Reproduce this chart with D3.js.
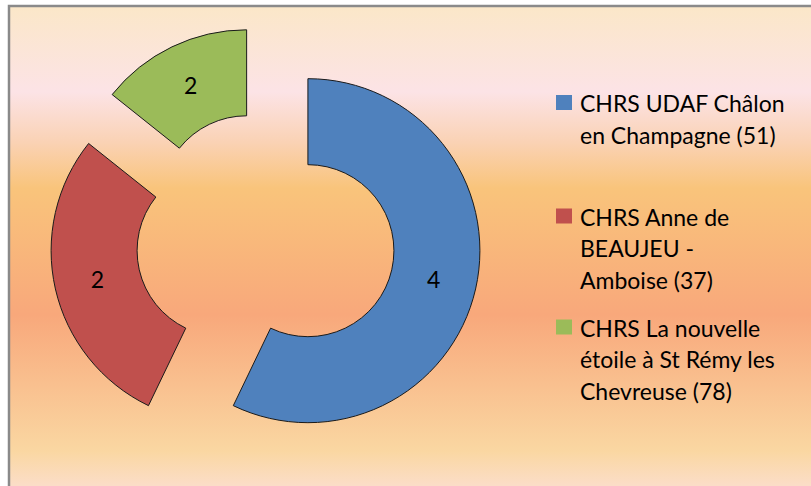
<!DOCTYPE html>
<html>
<head>
<meta charset="utf-8">
<script src="https://cdn.jsdelivr.net/npm/d3@7"></script>
<style>
  body { margin: 0; background: #fff; }
  text { font-family: Lato, "Noto Sans", sans-serif; fill: #000; }
</style>
</head>
<body>
<div id="target"></div>
<script>
// values (slice sizes 4:2:1, labels as printed)
const categories = ["CHRS UDAF Châlon en Champagne (51)", "CHRS Anne de BEAUJEU - Amboise (37)", "CHRS La nouvelle étoile à St Rémy les Chevreuse (78)"];
const values = [4, 2, 1];
const valueLabels = ["4", "2", "2"];
const legendLines = [
  ["CHRS UDAF Châlon", "en Champagne (51)"],
  ["CHRS Anne de", "BEAUJEU -", "Amboise (37)"],
  ["CHRS La nouvelle", "étoile à St Rémy les", "Chevreuse (78)"]
];
const colors = ["#4F81BD", "#C0504D", "#9BBB59"];

const width = 811, height = 486;
const cx = 265.5, cy = 241;
const outerR = 172, innerR = 86, explode = 43.5;

let svg = d3.select("#target").append("svg")
  .attr("width", width)
  .attr("height", height);

let grad = svg.append("defs").append("linearGradient")
  .attr("id", "bg").attr("x1", 0).attr("y1", 0).attr("x2", 0).attr("y2", 1);
[[0, "#FBE7C8"], [0.17, "#FCE3E6"], [0.27, "#FAD2B4"], [0.36, "#F9C47B"], [0.61, "#F8A87B"], [0.88, "#FAD7A2"], [1, "#FCE2E4"]]
  .forEach(s => grad.append("stop").attr("offset", s[0]).attr("stop-color", s[1]));

svg.append("rect")
  .attr("x", 9).attr("y", 6)
  .attr("width", width + 20).attr("height", height + 20)
  .attr("fill", "url(#bg)")
  .attr("stroke", "#8A8A8A")
  .attr("stroke-width", 2.5);

let pie = d3.pie().sort(null).value(d => d);
let arc = d3.arc().innerRadius(innerR).outerRadius(outerR);
let arcs = pie(values);

let g = svg.append("g").attr("transform", `translate(${cx},${cy})`);

let slice = g.selectAll(".slice")
  .data(arcs)
  .enter().append("g")
  .attr("class", "slice")
  .attr("transform", d => {
    let a = (d.startAngle + d.endAngle) / 2;
    return `translate(${Math.sin(a) * explode},${-Math.cos(a) * explode})`;
  });

slice.append("path")
  .attr("d", arc)
  .attr("fill", (d, i) => colors[i])
  .attr("stroke", "#1a1a1a")
  .attr("stroke-width", 1);

slice.append("text")
  .attr("transform", d => `translate(${arc.centroid(d)})`)
  .attr("text-anchor", "middle")
  .attr("dy", "0.36em")
  .style("font-size", "23px")
  .text((d, i) => valueLabels[i]);

// legend
const legendY = [112, 225.5, 336.5];
let legend = svg.append("g").selectAll("g")
  .data(categories)
  .enter().append("g")
  .attr("transform", (d, i) => `translate(556,${legendY[i]})`);

legend.append("rect")
  .attr("x", 0).attr("y", -17)
  .attr("width", 16).attr("height", 15)
  .attr("fill", (d, i) => colors[i]);

legend.append("text")
  .attr("x", 24)
  .style("font-size", "23px")
  .selectAll("tspan")
  .data((d, i) => legendLines[i])
  .enter().append("tspan")
  .attr("x", 24)
  .attr("dy", (d, j) => j ? 31.5 : 0)
  .text(d => d);
</script>
</body>
</html>
